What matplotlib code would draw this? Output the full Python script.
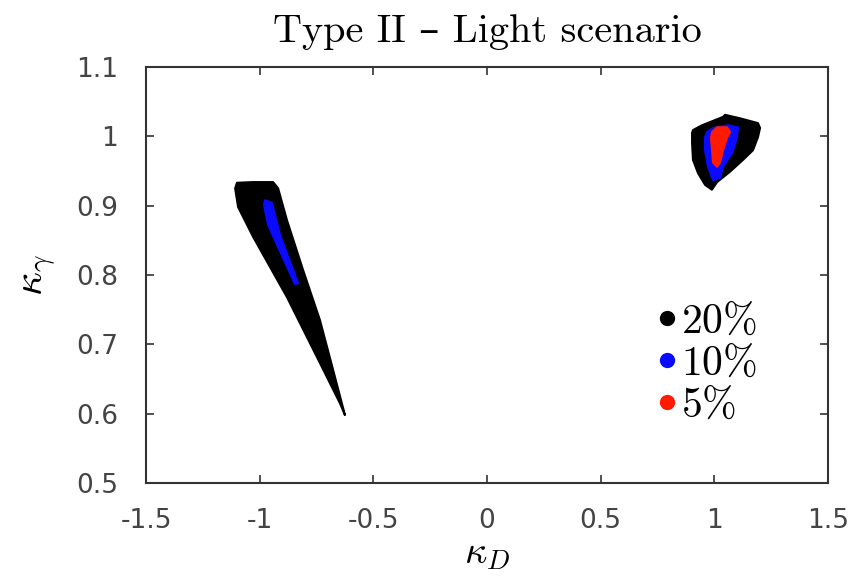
import matplotlib
matplotlib.use("Agg")
import matplotlib.pyplot as plt
from matplotlib.lines import Line2D

plt.rcParams['mathtext.fontset'] = 'cm'
plt.rcParams['axes.unicode_minus'] = False

# Region outlines (kappa_D, kappa_gamma)
wedge20_x = [-1.108, -1.100, -1.029, -0.941, -0.919, -0.880, -0.809, -0.735, -0.677, -0.625,
             -0.647, -0.735, -0.880, -1.029, -1.095]
wedge20_y = [0.925, 0.933, 0.934, 0.934, 0.925, 0.879, 0.807, 0.735, 0.663, 0.598,
             0.615, 0.673, 0.768, 0.855, 0.898]
wedge10_x = [-0.977, -0.946, -0.911, -0.831, -0.845, -0.963, -0.981]
wedge10_y = [0.908, 0.904, 0.858, 0.788, 0.787, 0.872, 0.901]

blob20_x = [0.906, 0.946, 1.038, 1.047, 1.113, 1.192, 1.201, 1.192, 1.170, 1.126, 1.069,
            1.012, 0.989, 0.959, 0.928, 0.906, 0.902, 0.902]
blob20_y = [1.009, 1.016, 1.028, 1.031, 1.026, 1.019, 1.012, 0.999, 0.980, 0.966, 0.949,
            0.934, 0.923, 0.930, 0.947, 0.966, 0.990, 1.005]
blob10_x = [0.968, 0.994, 1.060, 1.104, 1.100, 1.078, 1.038, 1.025, 0.994, 0.972, 0.959, 0.959]
blob10_y = [1.006, 1.012, 1.016, 1.013, 0.999, 0.976, 0.956, 0.940, 0.937, 0.956, 0.980, 0.999]
blob5_x = [0.990, 1.012, 1.056, 1.069, 1.056, 1.038, 1.025, 1.012, 0.994, 0.990, 0.985]
blob5_y = [1.006, 1.013, 1.013, 1.006, 0.998, 0.980, 0.962, 0.956, 0.962, 0.980, 0.998]

levels = ['20%', '10%', '5%']
colors = ['#000000', '#0a0aff', '#ff1a00']

xticks = [-1.5, -1, -0.5, 0, 0.5, 1, 1.5]
xticklabels = ['-1.5', '-1', '-0.5', '0', '0.5', '1', '1.5']
yticks = [0.5, 0.6, 0.7, 0.8, 0.9, 1.0, 1.1]
yticklabels = ['0.5', '0.6', '0.7', '0.8', '0.9', '1', '1.1']

fig = plt.figure(figsize=(8.61, 5.81), dpi=100)
ax = fig.add_axes([0.1696, 0.1687, 0.7921, 0.716])

for xs, ys, c in [(wedge20_x, wedge20_y, colors[0]), (wedge10_x, wedge10_y, colors[1]),
                  (blob20_x, blob20_y, colors[0]), (blob10_x, blob10_y, colors[1]),
                  (blob5_x, blob5_y, colors[2])]:
    ax.fill(xs, ys, color=c, lw=1.5, edgecolor=c, joinstyle='round')

ax.set_xlim(-1.5, 1.5)
ax.set_ylim(0.5, 1.1)
ax.set_xticks(xticks)
ax.set_xticklabels(xticklabels)
ax.set_yticks(yticks)
ax.set_yticklabels(yticklabels)

for lab in ax.get_xticklabels() + ax.get_yticklabels():
    lab.set_fontfamily('DejaVu Sans')
    lab.set_fontsize(19)
    lab.set_color('#444444')

ax.tick_params(direction='in', length=6, width=1.2, top=True, right=True,
               colors='#333333', labelcolor='#444444')
ax.tick_params(axis='x', pad=18)
ax.tick_params(axis='y', pad=20)
for s in ax.spines.values():
    s.set_linewidth(1.5)
    s.set_color('#333333')

ax.set_title('Type II \u2013 Light scenario', fontsize=29, pad=18,
             family=['cmr10', 'DejaVu Serif'])
ax.set_xlabel(r'$\kappa_D$', fontsize=28, labelpad=0)
ax.set_ylabel(r'$\kappa_\gamma$', fontsize=30, labelpad=14)

handles = [Line2D([], [], ls='none', marker='o', ms=10, color=c) for c in colors]
leg = ax.legend(handles, [r'$20\%$', r'$10\%$', r'$5\%$'], loc='upper left',
                bbox_to_anchor=(0.752, 0.44), frameon=False, fontsize=30,
                handlelength=0.4, handletextpad=0.12, labelspacing=0.0,
                borderpad=0, borderaxespad=0)

fig.savefig('out.png', dpi=100)
